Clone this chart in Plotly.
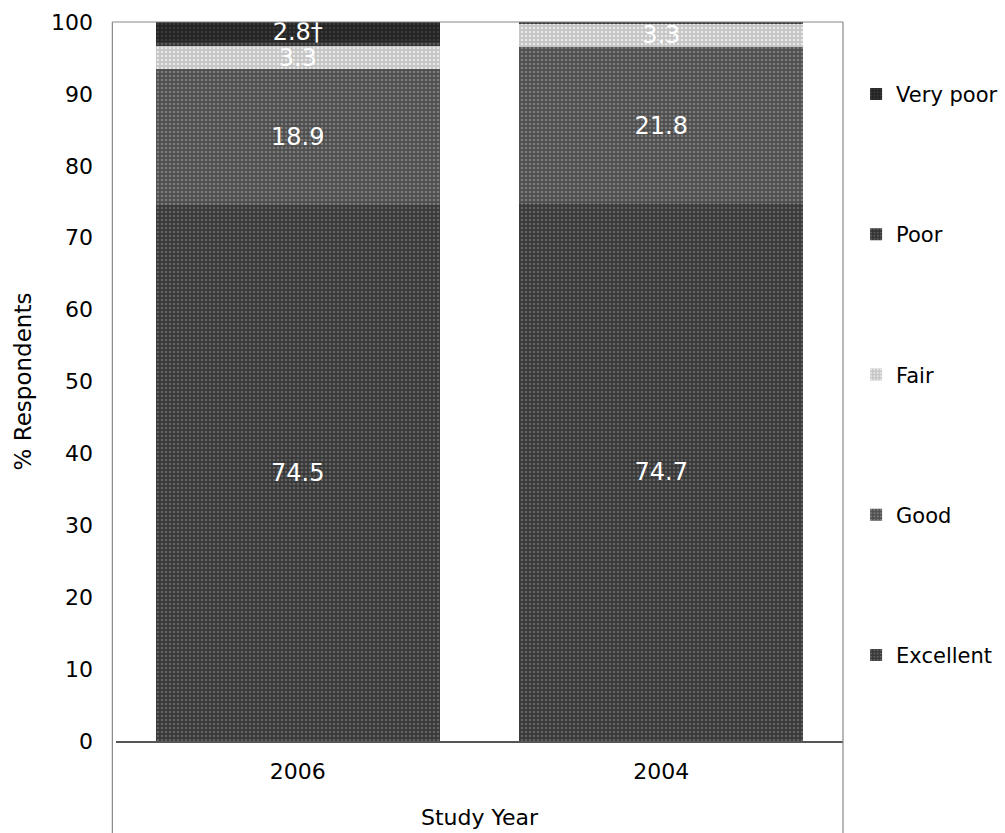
import plotly.graph_objects as go

years = ["2006", "2004"]
categories = ["Excellent", "Good", "Fair", "Poor", "Very poor"]
excellent = [74.5, 74.7]
good = [18.9, 21.8]
fair = [3.3, 3.3]
poor = [0.5, 0.2]
very_poor = [2.8, 0.0]
excellent_text = ["74.5", "74.7"]
good_text = ["18.9", "21.8"]
fair_text = ["3.3", "3.3"]
poor_text = ["", ""]
very_poor_text = ["2.8\u2020", ""]

series = [excellent, good, fair, poor, very_poor]
labels = [excellent_text, good_text, fair_text, poor_text, very_poor_text]

# grainy halftone look: base colour plus a speckle pattern
styles = {
    "Excellent": ("#383838", "#626262"),
    "Good": ("#4e4e4e", "#7c7c7c"),
    "Fair": ("#c4c4c4", "#e8e8e8"),
    "Poor": ("#333333", "#5a5a5a"),
    "Very poor": ("#242424", "#3a3a3a"),
}

FONT = "DejaVu Sans"

fig = go.Figure()
for i, (name, vals, txt) in enumerate(zip(categories, series, labels)):
    bg, fg = styles[name]
    fig.add_trace(go.Bar(
        x=years, y=vals, name=name, legendgroup=name,
        legendrank=len(categories) - i,
        text=txt, textposition="inside", insidetextanchor="middle",
        textangle=0, constraintext="none",
        textfont=dict(family=FONT, size=24, color="white"),
        marker=dict(color=bg, line=dict(width=0),
                    pattern=dict(shape=".", fgcolor=fg, bgcolor=bg,
                                 size=4, solidity=0.35, fillmode="replace")),
    ))

W, H = 1005, 833
L, R, T, B = 116, 162, 22, 92

fig.update_layout(
    width=W, height=H,
    margin=dict(l=L, r=R, t=T, b=B, autoexpand=False),
    barmode="stack", bargap=0.22,
    plot_bgcolor="white", paper_bgcolor="white",
    font=dict(family=FONT, size=22, color="black"),
    legend=dict(x=1.018, xanchor="left", y=0.928, yanchor="top",
                traceorder="grouped",
                tracegroupgap=110, font=dict(family=FONT, size=21),
                itemwidth=30, bgcolor="rgba(0,0,0,0)"),
    xaxis=dict(showgrid=False, showline=True, linecolor="#555", linewidth=1.5,
               ticks="", ticklabelstandoff=10, automargin=False,
               tickfont=dict(family=FONT, size=22),
               title=dict(text="Study Year", standoff=26,
                          font=dict(family=FONT, size=22))),
    yaxis=dict(range=[0, 100], dtick=10, showgrid=False, showline=False,
               ticks="", ticklabelstandoff=22, zeroline=False, automargin=False,
               tickfont=dict(family=FONT, size=22),
               title=dict(text="% Respondents", standoff=12,
                          font=dict(family=FONT, size=23))),
    showlegend=True,
)

# frame around the chart area, continuing below the category axis
line = dict(color="#888", width=1.2)
fig.add_shape(type="line", xref="paper", yref="paper", x0=-0.005, x1=1, y0=1, y1=1, line=line)
fig.add_shape(type="line", xref="paper", yref="paper", x0=-0.005, x1=-0.005,
              y0=1, y1=-B / (H - T - B), line=line)
fig.add_shape(type="line", xref="paper", yref="paper", x0=1, x1=1,
              y0=1, y1=-B / (H - T - B), line=line)

fig.write_html("out.html")
